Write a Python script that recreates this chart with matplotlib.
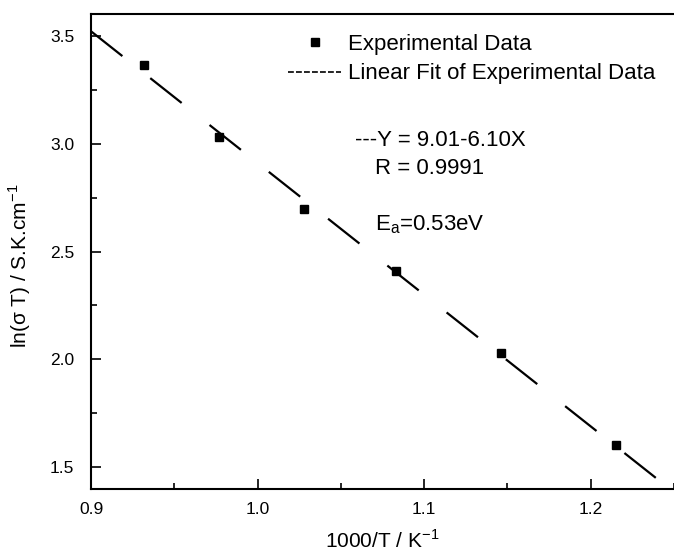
import numpy as np
import matplotlib
matplotlib.use("Agg")
import matplotlib.pyplot as plt
from matplotlib.lines import Line2D
from matplotlib.ticker import MultipleLocator

plt.rcParams["font.family"] = ["Liberation Sans", "DejaVu Sans"]

# Experimental points
inv_T = [0.932, 0.977, 1.028, 1.083, 1.146, 1.215]
ln_sigma_T = [3.363, 3.029, 2.698, 2.410, 2.030, 1.605]

# Fit line from the annotation Y = 9.01 - 6.10X, drawn over the x range
fit_intercept = 9.01
fit_slope = -6.10
fit_x = [0.9, 1.25]

W, H = 674, 552
fig = plt.figure(figsize=(W / 100, H / 100), dpi=100)
ax = fig.add_axes([91 / W, 1 - 489 / H, 583 / W, 475 / H])

fx = np.array(fit_x)
ax.plot(fx, fit_intercept + fit_slope * fx, color="black", lw=1.6,
        dashes=(18, 16))
ax.plot(inv_T, ln_sigma_T, "s", color="black", ms=6)

ax.set_xlim(0.9, 1.25)
ax.set_ylim(1.4, 3.6)
ax.xaxis.set_major_locator(MultipleLocator(0.1))
ax.xaxis.set_minor_locator(MultipleLocator(0.05))
ax.yaxis.set_major_locator(MultipleLocator(0.5))
ax.yaxis.set_minor_locator(MultipleLocator(0.25))
ax.tick_params(which="major", direction="in", length=7, width=1.2,
               labelsize=12.5)
ax.tick_params(axis="x", which="major", pad=9)
ax.tick_params(axis="y", which="major", pad=12)
ax.tick_params(which="minor", direction="in", length=4, width=1.2)
ax.spines["right"].set_visible(False)
for s in ["left", "bottom", "top"]:
    ax.spines[s].set_linewidth(1.5)

ax.set_xlabel("1000/T / K$^{\\mathregular{-1}}$", fontsize=15, labelpad=9)
ax.set_ylabel("ln(σ T) / S.K.cm$^{\\mathregular{-1}}$", fontsize=15)
ax.yaxis.set_label_coords(-0.1, 0.469)

fs = 16
handles = [Line2D([], [], ls="none", marker="s", color="black", ms=5.5),
           Line2D([], [], color="black", lw=1.2, dashes=(3.5, 1.3))]
ax.legend(handles, ["Experimental Data", "Linear Fit of Experimental Data"],
          loc="upper left", bbox_to_anchor=(288 / W, 1 - 34 / H),
          bbox_transform=fig.transFigure, frameon=False,
          fontsize=fs, handlelength=2.4, handletextpad=0.3,
          labelspacing=0.38, borderpad=0, borderaxespad=0)

def px(x, y):
    return x / W, 1 - y / H

ax.text(*px(355, 138), "---Y = 9.01-6.10X", transform=fig.transFigure,
        fontsize=fs, va="center_baseline")
ax.text(*px(375, 166), "R = 0.9991", transform=fig.transFigure,
        fontsize=fs, va="center_baseline")
ax.text(*px(375, 222), "E$_{\\mathregular{a}}$=0.53eV", transform=fig.transFigure,
        fontsize=fs, va="center_baseline")

fig.savefig("out.png", dpi=100)
